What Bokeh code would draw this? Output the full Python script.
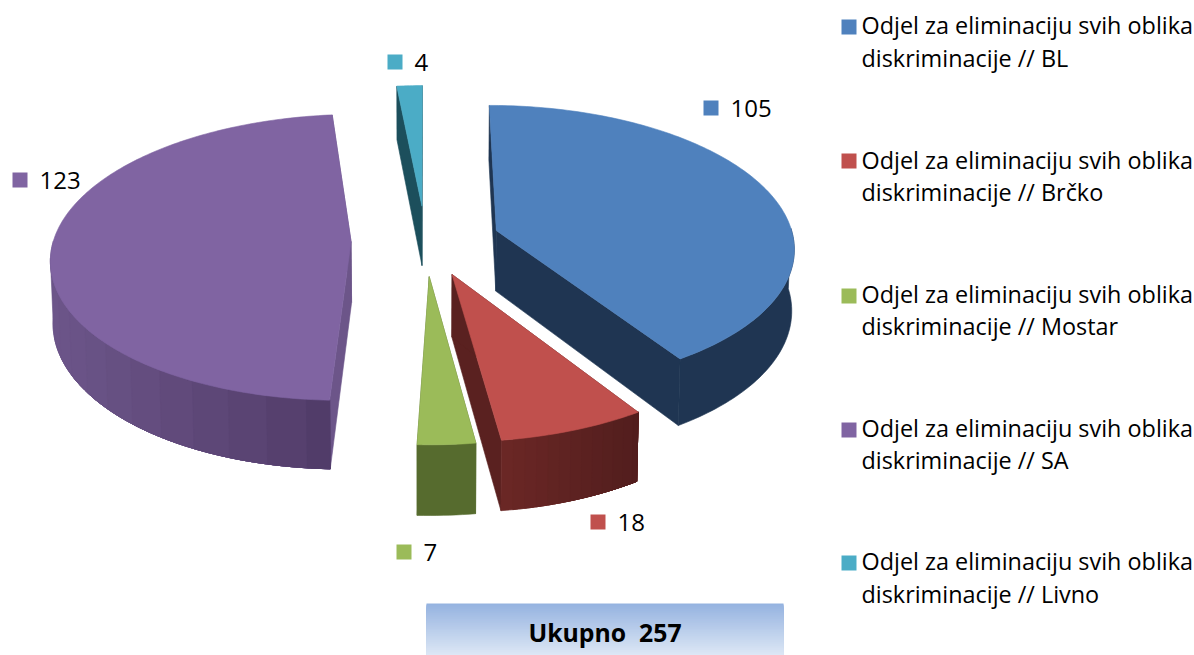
import math
from bokeh.plotting import figure
from bokeh.core.properties import value
from bokeh.embed import file_html
from bokeh.resources import INLINE

# --- data -------------------------------------------------------------
categories = ["Odjel za eliminaciju svih oblika diskriminacije // BL",
              "Odjel za eliminaciju svih oblika diskriminacije // Brčko",
              "Odjel za eliminaciju svih oblika diskriminacije // Mostar",
              "Odjel za eliminaciju svih oblika diskriminacije // SA",
              "Odjel za eliminaciju svih oblika diskriminacije // Livno"]
counts = [105, 18, 7, 123, 4]
total_label = "Ukupno\u00a0\u00a0257"

# --- styles -----------------------------------------------------------
top_colors = ["#4F81BD", "#C0504D", "#9BBB59", "#8064A2", "#4BACC6"]
wall_colors = ["#1F3552", "#5A2120", "#566B2E", "#6C5589", "#1C4F5C"]
rim_left = ["#1F3552", "#6A2725", "#566B2E", "#6C5589", "#1C4F5C"]
rim_right = ["#1F3552", "#511D1D", "#566B2E", "#4F3A66", "#1C4F5C"]

LABEL_FONT = "Open Sans"
CX, CY, RX, RY, K, DEPTH, EXPLODE, SHRINK = 425, 240, 297.6, 141, 0.11, 61, 0.25, 0.993

label_squares = [(703, 100), (590, 514), (396, 544), (12, 172), (387, 54)]
legend_squares = [(841, 19), (841, 153), (841, 288), (841, 422), (841, 555)]
legend_lines = [(24, 57), (159, 191), (293, 325), (427, 459), (560, 593)]

p = figure(width=1194, height=655, x_range=(0, 1194), y_range=(655, 0),
           toolbar_location=None, output_backend="svg", min_border=0)
p.axis.visible = False
p.grid.visible = False
p.outline_line_color = None
p.background_fill_color = "white"


def proj(X, Z, low=False):
    s = 1 / (1 + K * Z)
    x = CX + RX * X * s
    y = CY - RY * Z * s
    if low:
        y += DEPTH * s
        x = CX + (x - CX) * SHRINK
    return x, y


def mix(a, b, t):
    ca = [int(a[i:i + 2], 16) for i in (1, 3, 5)]
    cb = [int(b[i:i + 2], 16) for i in (1, 3, 5)]
    return "#%02x%02x%02x" % tuple(round(u + (v - u) * t) for u, v in zip(ca, cb))


def face(pts, color):
    p.patch([v[0] for v in pts], [v[1] for v in pts],
            fill_color=color, line_color=color, line_width=0.6)


whole = sum(counts)
start = 0.0
for i, c in enumerate(counts):
    sweep = 360 * c / whole
    a0 = start
    a1 = a0 + sweep
    start = a1
    mid = math.radians((a0 + a1) / 2)
    ax, az = EXPLODE * math.sin(mid), EXPLODE * math.cos(mid)
    n = max(8, int(sweep))
    thetas = [math.radians(a0 + (a1 - a0) * j / n) for j in range(n + 1)]
    rim = [(ax + math.sin(t), az + math.cos(t)) for t in thetas]

    # radial walls
    for X, Z in (rim[-1], rim[0]):
        face([proj(ax, az), proj(X, Z), proj(X, Z, True), proj(ax, az, True)], wall_colors[i])

    # outer side where it faces the viewer, painted in overlapping shade bands
    front = [P for P, t in zip(rim, thetas) if math.cos(t) <= 0.02]
    if len(front) > 1:
        xs = [proj(X, Z)[0] for X, Z in front]
        xmin, xmax = min(xs), max(xs)
        bands = 1 if rim_left[i] == rim_right[i] else 12
        # bands run left to right along x
        if xs[0] > xs[-1]:
            front = front[::-1]
            xs = xs[::-1]
        step = max(1, (len(front) - 1) // bands)
        for j in range(0, len(front) - 1, step):
            part = front[j:]
            t = (xs[j] - xmin) / max(xmax - xmin, 1)
            face([proj(*P) for P in part] + [proj(*P, True) for P in reversed(part)],
                 mix(rim_left[i], rim_right[i], t))

    # top surface
    face([proj(ax, az)] + [proj(X, Z) for X, Z in rim], top_colors[i])

    # data label
    sx, sy = label_squares[i]
    p.quad(left=sx, right=sx + 15, top=sy, bottom=sy + 15,
           fill_color=top_colors[i], line_color=None)
    p.text(x=[sx + 27], y=[sy + 8], text=[str(c)], text_font=value(LABEL_FONT),
           text_font_size="24px", text_color="#000000", text_baseline="middle")

    # legend
    lx, ly = legend_squares[i]
    p.quad(left=lx, right=lx + 15, top=ly, bottom=ly + 15,
           fill_color=top_colors[i], line_color=None)
    head, tail = categories[i].rsplit(" diskriminacije", 1)
    for yy, line in zip(legend_lines[i], (head, "diskriminacije" + tail)):
        p.text(x=[lx + 20], y=[yy], text=[line], text_font=value(LABEL_FONT),
               text_font_size="23.4px", text_color="#000000", text_baseline="middle")

# total box with a vertical gradient
BOX_L, BOX_R, BOX_T, BOX_B = 426, 783, 603, 655
steps = BOX_B - BOX_T
for j in range(steps):
    col = mix("#95B3E0", "#DDE7F5", j / (steps - 1))
    p.quad(left=BOX_L, right=BOX_R, top=BOX_T + j, bottom=BOX_B,
           fill_color=col, line_color=None)
p.text(x=[(BOX_L + BOX_R) / 2], y=[631], text=[total_label], text_font=value(LABEL_FONT),
       text_font_style="bold", text_font_size="24.8px", text_color="#000000",
       text_align="center", text_baseline="middle")

open("out.html", "w").write(file_html(p, INLINE))
